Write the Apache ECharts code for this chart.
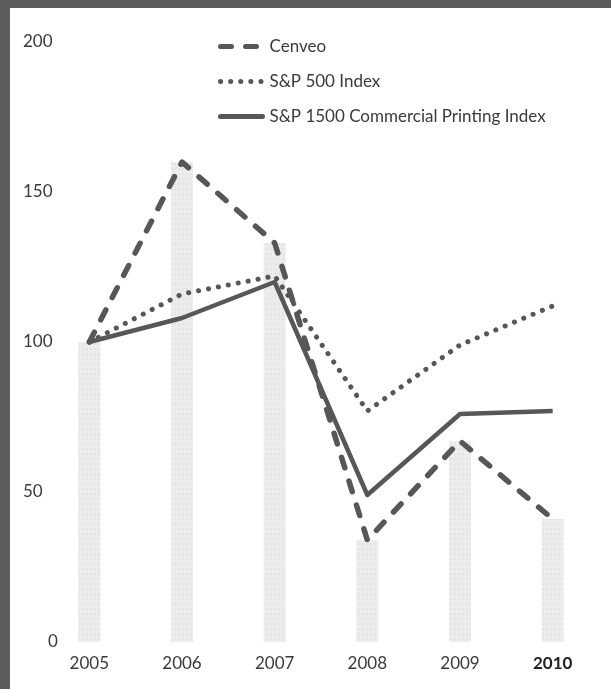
<!DOCTYPE html>
<html>
<head>
<meta charset="utf-8">
<script src="https://cdn.jsdelivr.net/npm/echarts@6/dist/echarts.min.js"></script>
<style>
  html, body { margin: 0; padding: 0; }
  body {
    width: 611px; height: 689px; overflow: hidden;
    background: #5c5c5c;
    position: relative;
  }
  #chart {
    position: absolute; left: 10px; top: 8px;
    width: 601px; height: 681px;
    background: #fff;
  }
</style>
</head>
<body>
<div id="chart"></div>
<script>
// values (index, 2005 = 100)
const years = ['2005', '2006', '2007', '2008', '2009', '2010']
const cenveo = [100, 160, 133, 34, 67, 41]
const sp500 = [100, 116, 122, 77, 99, 112]
const sp1500 = [100, 108, 120, 49, 76, 77]
const yTicks = [0, 50, 100, 150, 200]

const lineColor = '#575757'
const textColor = '#3a3a3a'
const font = 'Lato, "Open Sans", sans-serif'

const chart = echarts.init(document.getElementById('chart'))

chart.setOption({
  animation: false,
  textStyle: { fontFamily: font },
  grid: { left: 33, right: 12, top: 34, bottom: 47 },
  legend: {
    orient: 'vertical',
    left: 203,
    top: 25,
    itemGap: 18,
    itemWidth: 42,
    itemHeight: 18,
    itemStyle: { color: 'transparent', borderWidth: 0 },
    lineStyle: { width: 5, cap: 'round' },
    data: ['Cenveo', 'S&P 500 Index', 'S&P 1500 Commercial Printing Index'],
    textStyle: { color: textColor, fontSize: 17, fontFamily: font, padding: [0, 0, 0, 2] }
  },
  xAxis: {
    type: 'category',
    data: years,
    boundaryGap: true,
    axisLine: { show: false },
    axisTick: { show: false },
    axisLabel: {
      margin: 13,
      color: textColor,
      fontSize: 17,
      formatter: (v) => v === '2010' ? '{b|' + v + '}' : v,
      rich: { b: { fontWeight: 'bold', color: '#222', fontSize: 17, fontFamily: font } }
    }
  },
  yAxis: {
    type: 'value',
    min: yTicks[0],
    max: yTicks[yTicks.length - 1],
    interval: 50,
    axisLine: { show: false },
    axisTick: { show: false },
    splitLine: { show: false },
    axisLabel: {
      align: 'left',
      margin: 20,
      color: textColor,
      fontSize: 17,
      formatter: (v) => v === 0 ? '{z|0}' : String(v),
      rich: { z: { padding: [0, 0, 0, 25], color: textColor, fontSize: 17, fontFamily: font } }
    }
  },
  series: [
    {
      name: 'bars',
      type: 'bar',
      data: cenveo,
      barWidth: 22,
      silent: true,
      itemStyle: {
        color: '#ececec',
        decal: {
          symbol: 'circle',
          symbolSize: 0.5,
          color: 'rgba(120,120,120,0.35)',
          dashArrayX: [2, 2],
          dashArrayY: [2, 3],
          rotation: 0
        }
      },
      z: 1
    },
    {
      name: 'Cenveo',
      type: 'line',
      data: cenveo,
      symbol: 'none',
      color: lineColor,
      lineStyle: { color: lineColor, width: 5.5, type: [11, 14], cap: 'round', join: 'round' },
      z: 3
    },
    {
      name: 'S&P 500 Index',
      type: 'line',
      data: sp500,
      symbol: 'none',
      color: lineColor,
      lineStyle: { color: lineColor, width: 5, type: [0.1, 10], cap: 'round', join: 'round' },
      z: 3
    },
    {
      name: 'S&P 1500 Commercial Printing Index',
      type: 'line',
      data: sp1500,
      symbol: 'none',
      color: lineColor,
      lineStyle: { color: lineColor, width: 4.5, type: 'solid', join: 'round' },
      z: 3
    }
  ]
})
</script>
</body>
</html>
